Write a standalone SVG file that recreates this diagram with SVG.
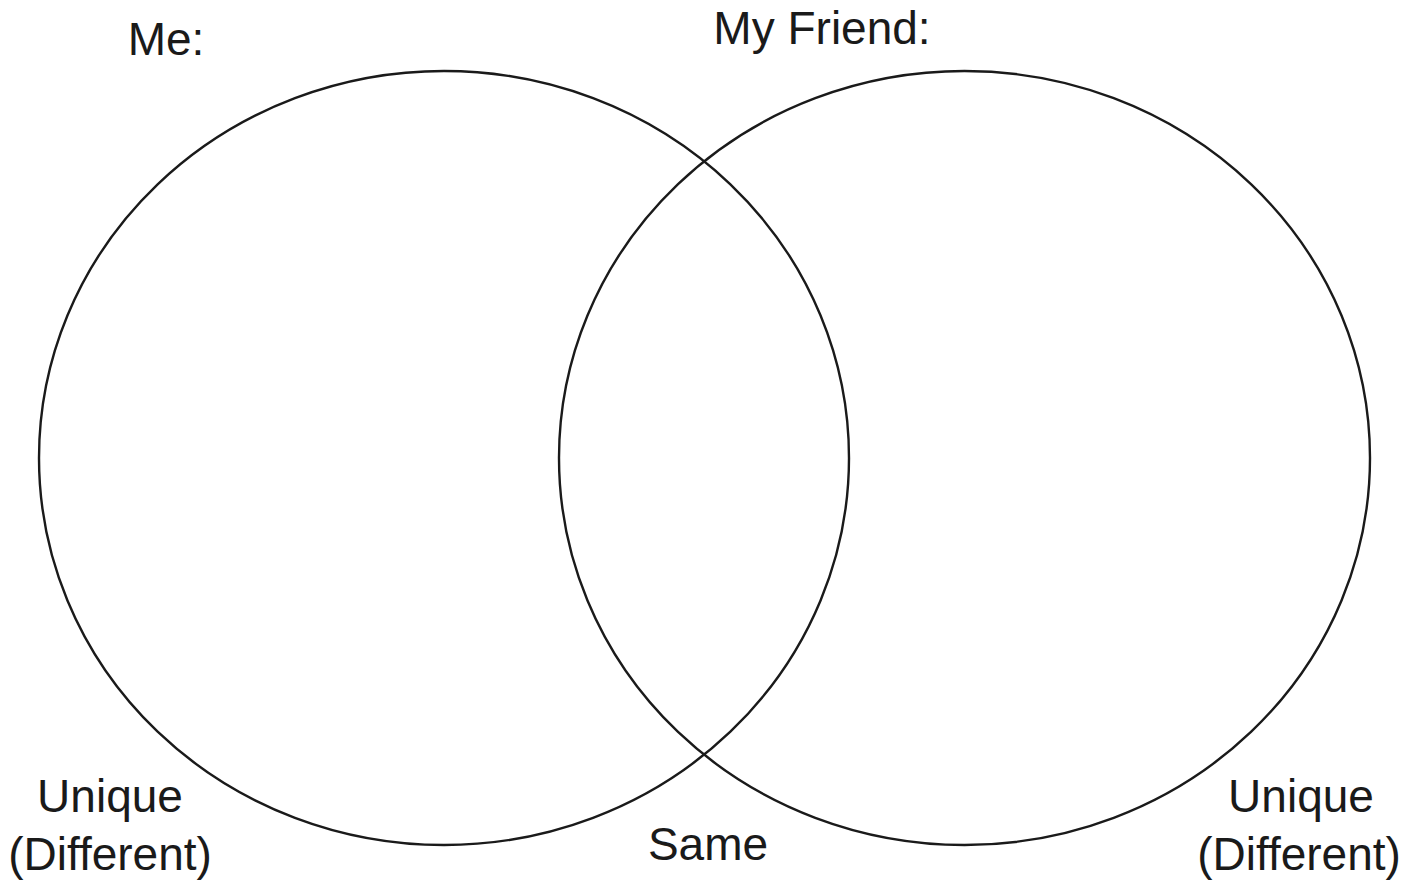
<svg xmlns="http://www.w3.org/2000/svg" width="1408" height="888" viewBox="0 0 1408 888">
<style>
.c{fill:none;stroke:#1a1a1a;stroke-width:2.4}
.t{font-family:"Liberation Sans",Arial,sans-serif;font-size:46px;fill:#1a1a1a;text-anchor:middle}
</style>
<rect width="1408" height="888" fill="#fff"/>
<g id="left-circle"><ellipse class="c" cx="444" cy="458" rx="405" ry="387"/></g>
<g id="right-circle"><ellipse class="c" cx="964.5" cy="458" rx="405.5" ry="387"/></g>
<g id="labels">
<text class="t" x="166" y="55">Me:</text>
<text class="t" x="822" y="44">My Friend:</text>
<text class="t" x="110" y="812">Unique</text>
<text class="t" x="110" y="870">(Different)</text>
<text class="t" x="708" y="860">Same</text>
<text class="t" x="1301" y="812">Unique</text>
<text class="t" x="1299" y="870">(Different)</text>
</g>
</svg>
